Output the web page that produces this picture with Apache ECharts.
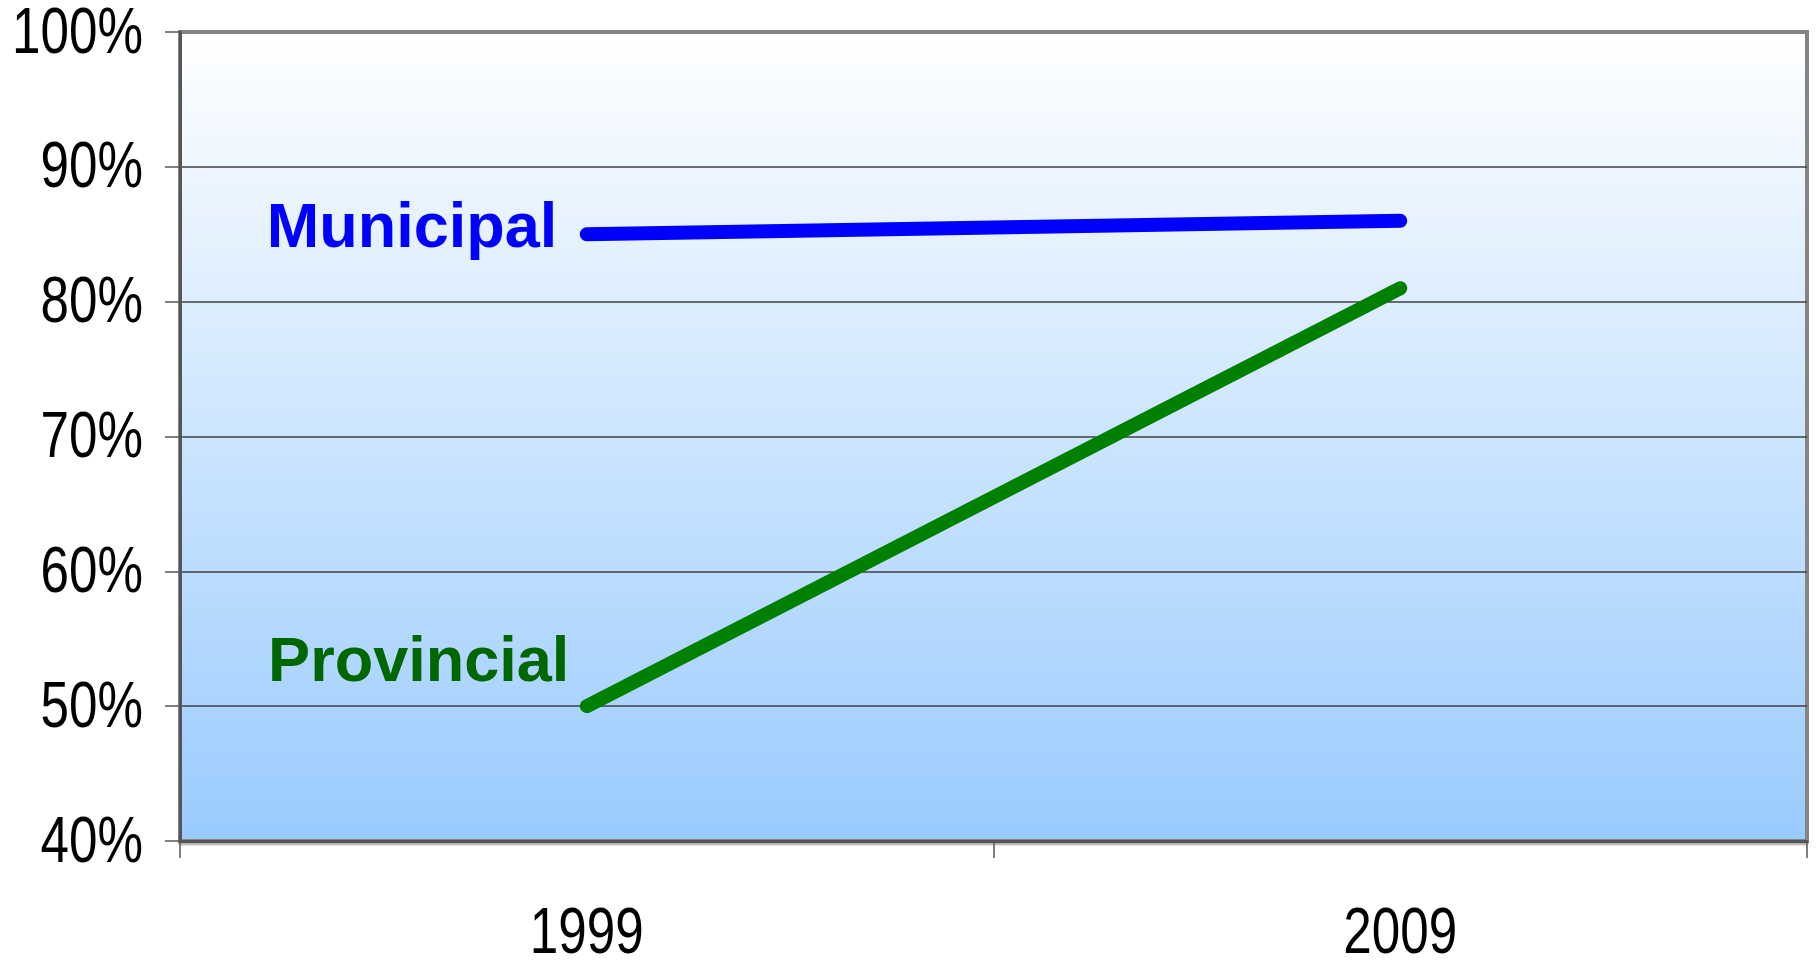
<!DOCTYPE html>
<html>
<head>
<meta charset="utf-8">
<script src="https://cdn.jsdelivr.net/npm/echarts@6/dist/echarts.min.js"></script>
<style>html,body{margin:0;padding:0;background:#fff;}#c{width:1816px;height:960px;}</style>
</head>
<body>
<div id="c"></div>
<script>
const categories = ['1999', '2009'];
const municipal = [85, 86];
const provincial = [50, 81];
const yTickValues = [40, 50, 60, 70, 80, 90, 100];
const yTickLabels = ['40%', '50%', '60%', '70%', '80%', '90%', '100%'];

const chart = echarts.init(document.getElementById('c'));
const GRID_LEFT = 180;
chart.setOption({
  animation: false,
  grid: {
    left: GRID_LEFT, right: 9, top: 32, bottom: 119,
    outerBoundsMode: 'none',
    containLabel: false,
    show: true,
    borderColor: '#858585',
    borderWidth: 4,
    backgroundColor: {
      type: 'linear', x: 0, y: 0, x2: 0, y2: 1,
      colorStops: [
        { offset: 0, color: '#ffffff' },
        { offset: 1, color: '#99cbfe' }
      ]
    }
  },
  xAxis: {
    type: 'category',
    data: categories,
    boundaryGap: true,
    axisLine: { show: true, lineStyle: { color: '#555555', width: 3, shadowColor: 'rgba(0,0,0,0.35)', shadowOffsetY: 2, shadowBlur: 2 } },
    axisTick: { show: true, length: 17, lineStyle: { color: '#555555', width: 1.5 } },
    axisLabel: { show: false }
  },
  yAxis: {
    type: 'value',
    min: yTickValues[0], max: yTickValues[yTickValues.length - 1], interval: 10,
    axisLine: { show: true, lineStyle: { color: '#555555', width: 3 } },
    axisTick: { show: true, length: 15, lineStyle: { color: '#555555', width: 1.5 } },
    axisLabel: { show: false },
    splitLine: { show: true, showMaxLine: false, showMinLine: false, lineStyle: { color: '#404040', width: 1.5 } }
  },
  series: [
    {
      name: 'Municipal',
      type: 'line',
      data: municipal.map((v, i) => i === 0 ? {
        value: v,
        label: {
          show: true, position: 'left', distance: 29, offset: [0, -5],
          formatter: 'Municipal',
          fontFamily: "'Liberation Sans', Arial, sans-serif", fontWeight: 'bold', fontSize: 63, color: '#0000ff'
        }
      } : v),
      symbol: 'circle', symbolSize: 1, showSymbol: true,
      itemStyle: { color: '#0000ff' },
      lineStyle: { color: '#0000ff', width: 14, cap: 'round' },
      z: 3
    },
    {
      name: 'Provincial',
      type: 'line',
      data: provincial.map((v, i) => i === 0 ? {
        value: v,
        label: {
          show: true, position: 'left', distance: 17, offset: [0, -43],
          formatter: 'Provincial',
          fontFamily: "'Liberation Sans', Arial, sans-serif", fontWeight: 'bold', fontSize: 63, color: '#006600'
        }
      } : v),
      symbol: 'circle', symbolSize: 1, showSymbol: true,
      itemStyle: { color: '#008000' },
      lineStyle: { color: '#008000', width: 14, cap: 'round' },
      z: 3
    }
  ]
});

// Tick labels drawn as condensed text (Arial Narrow look), positioned by the axes' own scales
const labelFont = "'Liberation Sans Narrow', 'Liberation Sans', Arial, sans-serif";
const NARROW = 0.80;
const LABEL_SIZE = 64;
const graphics = [];
yTickValues.forEach((v, i) => {
  const py = chart.convertToPixel({ yAxisIndex: 0 }, v);
  graphics.push({
    type: 'text', x: GRID_LEFT - 37, y: py + 3, scaleX: NARROW, silent: true,
    style: { text: yTickLabels[i], fontFamily: labelFont, fontSize: LABEL_SIZE, fill: '#000', align: 'right', verticalAlign: 'middle' }
  });
});
const bottomY = chart.convertToPixel({ yAxisIndex: 0 }, yTickValues[0]);
categories.forEach((c) => {
  const px = chart.convertToPixel({ xAxisIndex: 0 }, c);
  graphics.push({
    type: 'text', x: px, y: bottomY + 94, scaleX: NARROW, silent: true,
    style: { text: c, fontFamily: labelFont, fontSize: LABEL_SIZE, fill: '#000', align: 'center', verticalAlign: 'middle' }
  });
});
chart.setOption({ graphic: graphics });
</script>
</body>
</html>
